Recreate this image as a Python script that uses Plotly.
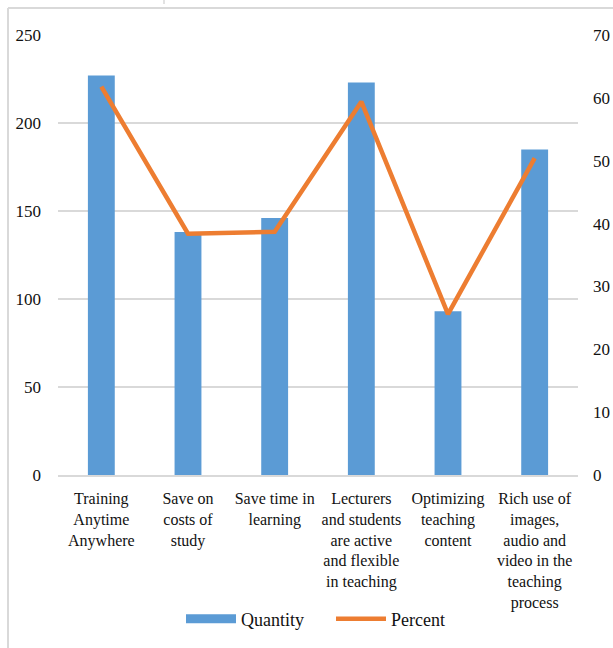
import plotly.graph_objects as go

categories = [
    "Training<br>Anytime<br>Anywhere",
    "Save on<br>costs of<br>study",
    "Save time in<br>learning",
    "Lecturers<br>and students<br>are active<br>and flexible<br>in teaching",
    "Optimizing<br>teaching<br>content",
    "Rich use of<br>images,<br>audio and<br>video in the<br>teaching<br>process",
]
quantity = [227, 138, 146, 223, 93, 185]
percent = [61.8, 38.4, 38.7, 59.4, 25.6, 50.4]

left_ticks = [0, 50, 100, 150, 200, 250]
right_ticks = [0, 10, 20, 30, 40, 50, 60, 70]

FONT = "Liberation Serif"
TXT = "#111111"
BLUE = "#5B9BD5"
ORANGE = "#ED7D31"

fig = go.Figure()
fig.add_trace(go.Bar(
    x=categories, y=quantity, name="Quantity",
    marker=dict(color=BLUE, line=dict(width=0)),
    yaxis="y", showlegend=False,
))
# legend entry drawn as a wide block, like the reference
fig.add_trace(go.Scatter(
    x=[None], y=[None], name="Quantity", mode="lines",
    line=dict(color=BLUE, width=9), yaxis="y",
))
fig.add_trace(go.Scatter(
    x=categories, y=percent, name="Percent", mode="lines",
    line=dict(color=ORANGE, width=4.5),
    yaxis="y2",
))

W, H = 613, 648
L, R, T, B = 58, 35, 35, 173
pw, ph = W - L - R, H - T - B

def px(x):
    return (x - L) / pw

def py(y):
    return (H - B - y) / ph

frame = "#d9d9d9"
shapes = [
    dict(type="line", xref="paper", yref="paper", x0=px(8), x1=px(8), y0=py(700), y1=py(8),
         line=dict(color=frame, width=2)),
    dict(type="line", xref="paper", yref="paper", x0=px(8), x1=px(700), y0=py(8), y1=py(8),
         line=dict(color=frame, width=2)),
    dict(type="line", xref="paper", yref="paper", x0=px(164), x1=px(164), y0=py(0), y1=py(4),
         line=dict(color=frame, width=1.5)),
]

fig.update_layout(
    width=W, height=H,
    margin=dict(l=L, r=R, t=T, b=B, autoexpand=False),
    paper_bgcolor="white", plot_bgcolor="white",
    font=dict(family=FONT, size=17, color=TXT),
    bargap=0.69,
    showlegend=True,
    legend=dict(orientation="h", x=px(181), xanchor="left", y=py(619), yanchor="middle",
                font=dict(family=FONT, size=18, color=TXT), itemwidth=50,
                entrywidth=85, traceorder="normal"),
    xaxis=dict(
        type="category", showgrid=False, showline=True, linecolor="#d9d9d9", linewidth=1.5,
        ticks="", tickfont=dict(family=FONT, size=16, color=TXT), tickangle=0,
        ticklabelstandoff=8,
    ),
    yaxis=dict(
        range=[0, 250], tickvals=left_ticks, showgrid=True, gridcolor="#d9d9d9", gridwidth=1.5,
        zeroline=False, showline=False, ticks="", ticklabelstandoff=16,
        tickfont=dict(family=FONT, size=17, color=TXT),
    ),
    yaxis2=dict(
        range=[0, 70], tickvals=right_ticks, overlaying="y", side="right",
        showgrid=False, zeroline=False, showline=False, ticks="", ticklabelstandoff=14,
        tickfont=dict(family=FONT, size=17, color=TXT),
    ),
    shapes=shapes,
)

fig.write_html("out.html")
